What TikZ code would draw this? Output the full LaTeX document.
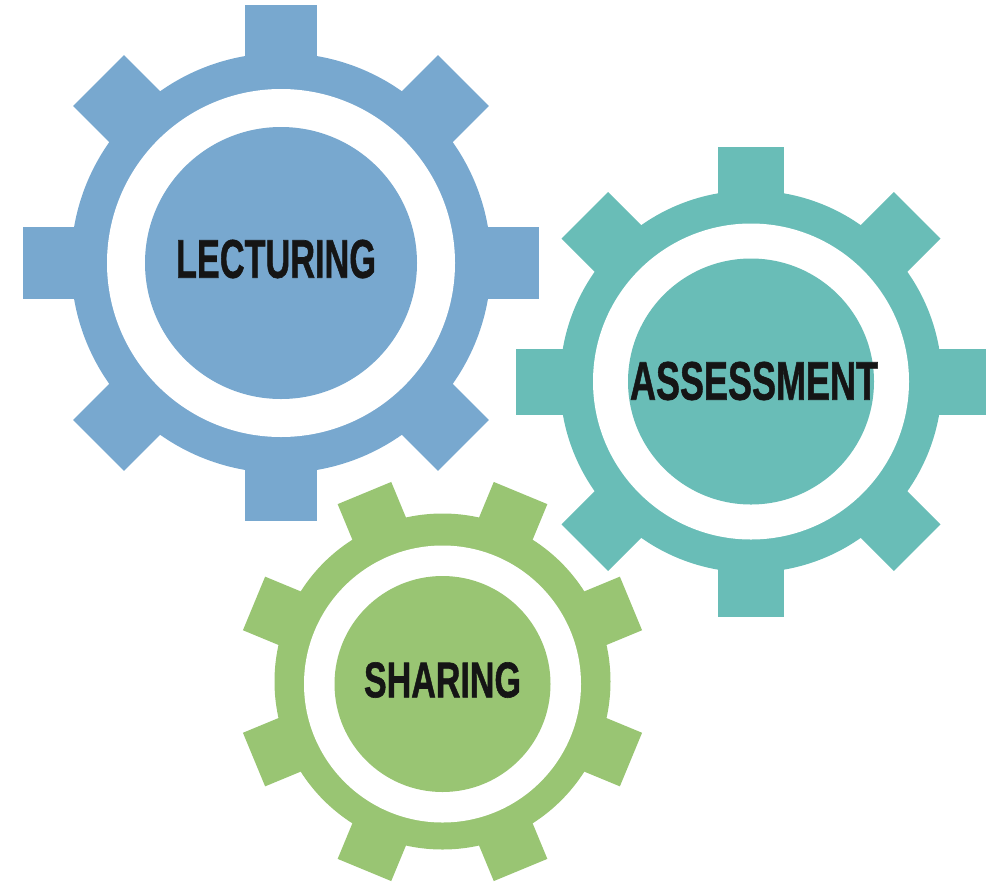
\documentclass[tikz,border=0pt]{standalone}
\usepackage{fontspec}
\setmainfont{Liberation Sans}
\newfontfamily\gearfont[FakeBold=1.2]{Liberation Sans}
\definecolor{gblue}{HTML}{78A8CF}
\definecolor{gteal}{HTML}{69BDB7}
\definecolor{ggreen}{HTML}{99C573}
\definecolor{gtext}{HTML}{151515}
\tikzset{x=1pt,y=-1pt,
 gearlabel/.style={font=\gearfont\bfseries,text=gtext,inner sep=0pt},
}
% body: #1 colour, #2 cx, #3 cy, #4 ring r, #5 tooth r, #6 half tooth width, #7 start angle
\newcommand{\gearbody}[7]{%
 \fill[#1] (#2,#3) circle[radius=#4];
 \foreach \a in {0,45,...,315}{%
  \fill[#1,shift={(#2,#3)},rotate=\a+#7] (-#6,-#4+6) -- (-#6,-#5) -- (#6,-#5) -- (#6,-#4+6) -- cycle;
 }
}
% hub: #1 colour, #2 cx, #3 cy, #4 disc r, #5 white r
\newcommand{\gearhub}[5]{%
 \fill[white] (#2,#3) circle[radius=#5];
 \fill[#1] (#2,#3) circle[radius=#4];
}
\begin{document}
\begin{tikzpicture}
\useasboundingbox (0,0) rectangle (990,884);
\gearbody{gblue}{281}{263}{210}{258}{36}{0}
\gearhub{gblue}{281}{263}{136}{174}
\gearbody{gteal}{751}{381.5}{191}{235}{33}{0}
\gearhub{gteal}{751}{381.5}{123}{158}
\gearbody{ggreen}{442.5}{681.5}{168}{204}{29}{22.5}
\gearhub{ggreen}{442.5}{684}{108}{138.5}
\node[gearlabel] (lect) at (276,259) {\resizebox{200pt}{38pt}{LECTURING}};
\node[gearlabel] (asse) at (754,381) {\resizebox{248pt}{38pt}{ASSESSMENT}};
\node[gearlabel] (shar) at (442.5,680) {\resizebox{157pt}{35pt}{SHARING}};
\end{tikzpicture}
\end{document}
